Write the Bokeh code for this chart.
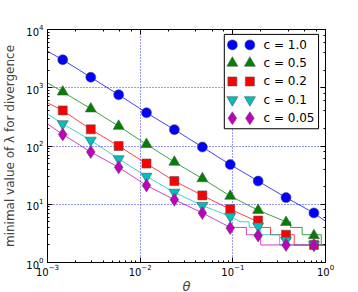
from bokeh.plotting import figure
from bokeh.models import Range1d, LogAxis, LogTicker, LinearScale, CustomLabelingPolicy
from bokeh.core.properties import value
from bokeh.embed import file_html
from bokeh.resources import INLINE

# ---- data ----
theta = [0.00146, 0.00293, 0.00586, 0.0117, 0.0234, 0.0469, 0.0938, 0.1875, 0.375, 0.75]

lam_c10 = [3020, 1514, 758, 372, 191, 96, 48, 25, 13, 7.1]
lam_c05 = [850, 436, 219, 107, 53, 27.6, 13.8, 7.9, 4.9, 2.9]
lam_c02 = [408, 193, 100, 50, 25, 14.2, 8.2, 5.25, 3.0, 2.0]
lam_c01 = [240, 125, 60, 30, 16, 9.5, 6.2, 4.2, 2.4, 2.0]
lam_c005 = [158, 79, 43, 21, 12, 7.1, 3.9, 2.9, 2.0, 2.0]

# continuous curves (integer staircase near the right end)
line_c10_t = [0.001, 0.00146, 0.00293, 0.00586, 0.0117, 0.0234, 0.0469, 0.0938, 0.1875, 0.375, 0.75, 1.0]
line_c10_v = [4250, 3020, 1514, 758, 372, 191, 96, 48, 25, 13, 7.1, 5.1]

line_c05_t = [0.001, 0.00146, 0.00293, 0.00586, 0.0117, 0.0234, 0.0469, 0.0938, 0.1875, 0.375, 0.42, 0.42, 0.56, 0.56, 0.9, 0.9, 1.0]
line_c05_v = [1216, 850, 436, 219, 107, 53, 27.6, 13.8, 7.9, 5, 5, 4, 4, 3, 3, 2, 2]

line_c02_t = [0.001, 0.00146, 0.00293, 0.00586, 0.0117, 0.0234, 0.0469, 0.0938, 0.1875, 0.2, 0.2, 0.255, 0.255, 0.46, 0.46, 1.0]
line_c02_v = [550, 408, 193, 100, 50, 25, 14.2, 8.2, 5, 5, 4, 4, 3, 3, 2, 2]

line_c01_t = [0.001, 0.00146, 0.00293, 0.00586, 0.0117, 0.0234, 0.0469, 0.0938, 0.12, 0.15, 0.15, 0.2, 0.2, 0.32, 0.32, 1.0]
line_c01_v = [355, 240, 125, 60, 30, 16, 9.5, 6.2, 5, 5, 4, 4, 3, 3, 2, 2]

line_c005_t = [0.001, 0.00146, 0.00293, 0.00586, 0.0117, 0.0234, 0.0469, 0.0938, 0.14, 0.14, 0.2, 0.2, 1.0]
line_c005_v = [240, 158, 79, 43, 21, 12, 7.1, 4, 4, 3, 3, 2, 2]

labels = ["c = 1.0", "c = 0.5", "c = 0.2", "c = 0.1", "c = 0.05"]
colors = ["#0000ff", "#008000", "#ff0000", "#00bfbf", "#bf00bf"]
markers = ["circle", "triangle", "square", "inverted_triangle", "diamond"]
msizes = [10, 11, 9, 11, 13]

series = [lam_c10, lam_c05, lam_c02, lam_c01, lam_c005]
lines = [(line_c10_t, line_c10_v), (line_c05_t, line_c05_v), (line_c02_t, line_c02_v),
         (line_c01_t, line_c01_v), (line_c005_t, line_c005_v)]

FONT = "DejaVu Sans"

p = figure(frame_width=278, frame_height=233, x_axis_type="log", y_axis_type="log",
           x_range=Range1d(1e-3, 1.0), y_range=Range1d(1.0, 1e4),
           min_border_left=45, min_border_right=35, min_border_top=29, min_border_bottom=29,
           output_backend="svg", toolbar_location=None)
p.background_fill_color = "white"
p.border_fill_color = "white"
p.outline_line_color = "black"
p.outline_line_width = 1

# grid: dotted blue at decades
for g in (p.xgrid, p.ygrid):
    g.grid_line_color = "#0000ff"
    g.grid_line_dash = "1 2"
    g.grid_line_alpha = 0.8
    g.grid_line_width = 1

# axes
for ax in (p.xaxis, p.yaxis):
    ax.major_tick_in = 5
    ax.major_tick_out = 0
    ax.minor_tick_in = 2
    ax.minor_tick_out = 0
    ax.major_tick_line_color = "black"
    ax.minor_tick_line_color = "black"
    ax.axis_line_color = "black"
    ax.major_label_text_font = FONT
    ax.major_label_text_font_size = "10px"
    ax.major_label_text_color = "black"

p.xaxis.major_label_standoff = 1
p.yaxis.major_label_standoff = 4

p.yaxis.axis_label = "minimal value of λ for divergence"
p.yaxis.axis_label_text_font = FONT
p.yaxis.axis_label_text_font_size = "12px"
p.yaxis.axis_label_text_font_style = "normal"
p.yaxis.axis_label_standoff = 6

p.xaxis.axis_label = "θ"
p.xaxis.axis_label_text_font = FONT
p.xaxis.axis_label_text_font_size = "13px"
p.xaxis.axis_label_text_font_style = "italic"
p.xaxis.axis_label_standoff = 0

top = LogAxis(ticker=LogTicker(), major_label_policy=CustomLabelingPolicy(code="return new Set()"))
right = LogAxis(ticker=LogTicker(), major_label_policy=CustomLabelingPolicy(code="return new Set()"))
for ax in (top, right):
    ax.major_tick_in = 5
    ax.major_tick_out = 0
    ax.minor_tick_in = 2
    ax.minor_tick_out = 0
    ax.major_label_standoff = 0
    ax.axis_line_color = "black"
p.add_layout(top, "above")
p.add_layout(right, "right")

# curves and markers
for (lt, lv), col in zip(lines, colors):
    p.line(lt, lv, line_color=col, line_width=1, line_alpha=0.75)

for vals, col, mk, ms in zip(series, colors, markers, msizes):
    p.scatter(theta, vals, marker=mk, size=ms, fill_color=col, line_color="#555555",
              line_width=0.6)

# legend drawn in a normalized (linear) frame range
p.extra_x_ranges = {"leg": Range1d(0, 1)}
p.extra_y_ranges = {"leg": Range1d(0, 1)}
p.extra_x_scales = {"leg": LinearScale()}
p.extra_y_scales = {"leg": LinearScale()}
p.quad(left=[0.636], right=[0.975], bottom=[0.574], top=[0.979],
       x_range_name="leg", y_range_name="leg",
       fill_color="white", line_color="black", line_width=1)
row_y = [0.934, 0.856, 0.777, 0.698, 0.619]
for yy, lab, col, mk, ms in zip(row_y, labels, colors, markers, msizes):
    p.scatter([0.665, 0.728], [yy, yy], marker=mk, size=ms, fill_color=col,
              line_color="#555555", line_width=0.6,
              x_range_name="leg", y_range_name="leg")
    p.text([0.777], [yy], text=[lab], text_font=value(FONT), text_font_size="12px",
           text_baseline="middle", text_align="left", text_color="black",
           x_range_name="leg", y_range_name="leg")

open("out.html", "w").write(file_html(p, INLINE))
